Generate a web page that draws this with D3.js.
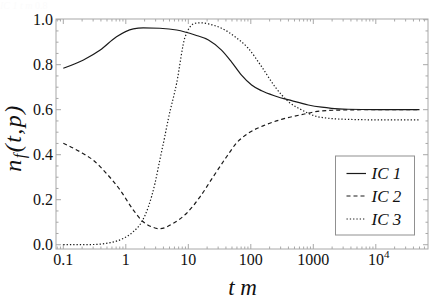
<!DOCTYPE html>
<html><head><meta charset="utf-8">
<script src="https://cdn.jsdelivr.net/npm/d3@7"></script>
<style>
body{margin:0;background:#fff;font-family:"Liberation Serif","Times New Roman",Times,serif}
svg{display:block;font-family:"Liberation Serif","Times New Roman",Times,serif}
svg text{font-family:"Liberation Serif","Times New Roman",Times,serif}
#pre{position:absolute;left:0;top:0;opacity:0.01;font-family:"Liberation Serif";font-size:10px}
</style>
</head><body>
<div id="pre"><i>IC 1 t m</i> 0.8</div>
<div id="chart"></div>
<script>
// ---- data ----
const seriesNames = ["IC 1", "IC 2", "IC 3"];
const ic1T = [0.1, 0.21, 0.39, 0.71, 1.32, 1.9, 3.5, 6.5, 12.8, 21, 34, 49, 71, 103, 149, 244, 451, 832, 1360, 1950, 3600, 1e4, 5e4];
const ic1V = [0.784, 0.821, 0.865, 0.924, 0.959, 0.964, 0.962, 0.954, 0.932, 0.91, 0.865, 0.813, 0.754, 0.71, 0.684, 0.661, 0.64, 0.621, 0.611, 0.606, 0.602, 0.600, 0.600];
const ic2T = [0.1, 0.185, 0.30, 0.49, 0.81, 1.32, 1.9, 2.76, 3.5, 5.75, 9.4, 15.4, 25, 41, 59, 91, 170, 310, 650, 1360, 3600, 1e4, 5e4];
const ic2V = [0.451, 0.413, 0.376, 0.317, 0.243, 0.154, 0.102, 0.077, 0.071, 0.095, 0.14, 0.213, 0.302, 0.391, 0.452, 0.495, 0.532, 0.557, 0.578, 0.595, 0.599, 0.600, 0.600];
const ic3T = [0.1, 0.3, 0.56, 0.91, 1.32, 1.8, 2.3, 2.93, 3.5, 4.2, 4.8, 6.5, 8.9, 12.8, 16, 21, 34, 56, 91, 149, 244, 398, 652, 1065, 1740, 3600, 1e4, 5e4];
const ic3V = [0.0, 0.001, 0.009, 0.028, 0.058, 0.102, 0.169, 0.273, 0.376, 0.48, 0.56, 0.717, 0.924, 0.984, 0.986, 0.981, 0.962, 0.924, 0.873, 0.791, 0.702, 0.636, 0.599, 0.572, 0.562, 0.557, 0.555, 0.555];
const xTickValues = [0.1, 1, 10, 100, 1000, 10000];
const xTickLabels = ["0.1", "1", "10", "100", "1000", "10^4"];
const yTickValues = [0, 0.2, 0.4, 0.6, 0.8, 1.0];
const yTickLabels = ["0.0", "0.2", "0.4", "0.6", "0.8", "1.0"];

const W = 430, H = 300;
const L = 56, R = 428, T = 19, B = 249;
const x = d3.scaleLog().domain([0.0764, 68400]).range([L, R]);
const y = d3.scaleLinear().domain([-0.019, 1.003]).range([B, T]);
const FONT = '"Liberation Serif", "Times New Roman", Times, serif';

const svg = d3.select("#chart").append("svg").attr("width", W).attr("height", H)
  .attr("font-family", "Liberation Serif");
const frameColor = "#a8a8a8";

// frame
svg.append("rect").attr("x", L).attr("y", T).attr("width", R - L).attr("height", B - T)
  .attr("fill", "none").attr("stroke", frameColor).attr("stroke-width", 1);

// ticks
const gT = svg.append("g").attr("stroke", frameColor).attr("stroke-width", 1);
const xMajor = [], xMinor = [];
for (let e = -2; e <= 5; e++) {
  for (let m = 1; m <= 9; m++) {
    const v = m * Math.pow(10, e);
    if (v < x.domain()[0] || v > x.domain()[1]) continue;
    (m === 1 ? xMajor : xMinor).push(v);
  }
}
xMajor.forEach(v => {
  gT.append("line").attr("x1", x(v)).attr("x2", x(v)).attr("y1", B).attr("y2", B - 5);
  gT.append("line").attr("x1", x(v)).attr("x2", x(v)).attr("y1", T).attr("y2", T + 5);
});
xMinor.forEach(v => {
  gT.append("line").attr("x1", x(v)).attr("x2", x(v)).attr("y1", B).attr("y2", B - 2.5);
  gT.append("line").attr("x1", x(v)).attr("x2", x(v)).attr("y1", T).attr("y2", T + 2.5);
});
d3.range(0, 21).map(i => i * 0.05).forEach((v, i) => {
  const len = i % 4 === 0 ? 5 : 2.5;
  gT.append("line").attr("x1", L).attr("x2", L + len).attr("y1", y(v)).attr("y2", y(v));
  gT.append("line").attr("x1", R).attr("x2", R - len).attr("y1", y(v)).attr("y2", y(v));
});

// tick labels
xTickValues.forEach((v, i) => {
  const lab = xTickLabels[i];
  const t = svg.append("text").attr("x", x(v)).attr("y", 265).attr("text-anchor", "middle")
    .style("font-family", FONT).style("font-size", "16px").style("fill", "#111");
  if (lab.indexOf("^") >= 0) {
    const [b, p] = lab.split("^");
    t.attr("x", x(v) + 3);
    t.append("tspan").text(b);
    t.append("tspan").attr("dy", -7).style("font-size", "11px").text(p);
  } else t.text(lab);
});
yTickValues.forEach((v, i) => {
  svg.append("text").attr("x", 53).attr("y", y(v)).attr("dy", "0.34em").attr("text-anchor", "end")
    .style("font-family", FONT).style("font-size", "16px").style("fill", "#111").text(yTickLabels[i]);
});

// axis labels
const yl = svg.append("text").attr("transform", "translate(21,138) rotate(-90)")
  .attr("text-anchor", "middle").style("font-family", FONT).style("font-style", "italic")
  .style("font-size", "24px").style("letter-spacing", "1.5px").style("fill", "#111");
yl.append("tspan").text("n");
yl.append("tspan").style("font-size", "16px").attr("dy", 4).text("f");
yl.append("tspan").attr("dy", -4).text("(t,p)");
svg.append("text").attr("x", 242.5).attr("y", 295).attr("text-anchor", "middle")
  .style("font-family", FONT).style("font-style", "italic").style("font-size", "23px")
  .style("fill", "#111").style("white-space", "pre").text("t m");

// curves
const dashes = [null, "4,3", "1.3,2"];
const data = [[ic1T, ic1V], [ic2T, ic2V], [ic3T, ic3V]];
const line = d3.line().x(d => x(d[0])).y(d => y(d[1])).curve(d3.curveMonotoneX);
svg.append("clipPath").attr("id", "c").append("rect")
  .attr("x", L).attr("y", T).attr("width", R - L).attr("height", B - T);
data.forEach(([ts, vs], i) => {
  svg.append("path").datum(ts.map((t, j) => [t, vs[j]])).attr("d", line)
    .attr("fill", "none").attr("stroke", "#1a1a1a").attr("stroke-width", 1.2)
    .attr("stroke-dasharray", dashes[i]).attr("clip-path", "url(#c)");
});

// legend
const lg = svg.append("g");
lg.append("rect").attr("x", 335.5).attr("y", 156).attr("width", 79).attr("height", 79)
  .attr("fill", "#fff").attr("stroke", "#909090").attr("stroke-width", 1);
const ly = [173.5, 196, 219];
seriesNames.forEach((n, i) => {
  lg.append("line").attr("x1", 346.5).attr("x2", 366).attr("y1", ly[i]).attr("y2", ly[i])
    .attr("stroke", "#1a1a1a").attr("stroke-width", 1.2).attr("stroke-dasharray", dashes[i]);
  lg.append("text").attr("x", 371.5).attr("y", ly[i] + 5.5)
    .style("font-family", FONT).style("font-style", "italic").style("font-size", "17px")
    .style("fill", "#111").text(n);
});
</script>
</body></html>
